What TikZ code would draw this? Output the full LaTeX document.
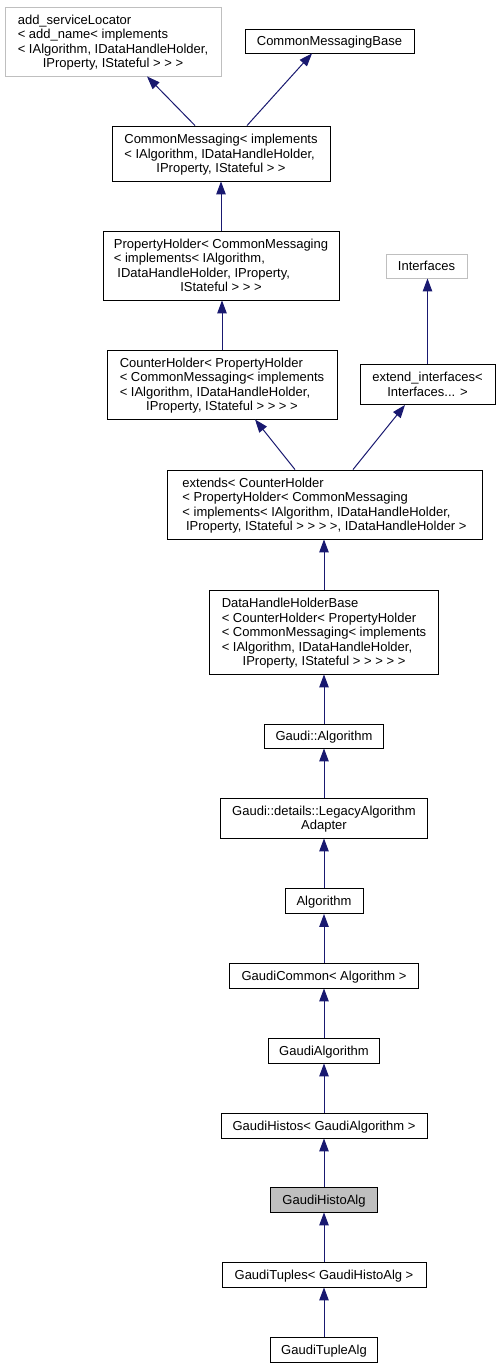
\documentclass[tikz,border=0pt]{standalone}
\usepackage{fontspec}
\setmainfont{Liberation Sans}
\usetikzlibrary{arrows.meta}
\definecolor{edgeblue}{HTML}{191970}
\definecolor{lightborder}{HTML}{BFBFBF}
\definecolor{selfill}{HTML}{BFBFBF}
\newcommand{\lines}[1]{\begin{tabular}{@{}l@{}}\rule{0pt}{13.6pt}#1\end{tabular}}
\newcommand{\clines}[1]{\begin{tabular}{@{}c@{}}\rule{0pt}{13.6pt}#1\end{tabular}}
\newcommand{\cl}[1]{\multicolumn{1}{@{}c@{}}{#1}}
\begin{document}
\begin{tikzpicture}[x=1pt,y=-1pt,
  box/.style={draw=black, line width=0.9pt, fill=white, inner sep=0pt,
    font=\fontsize{13}{14.4}\selectfont, anchor=center},
  one/.style={box, text height=13.6pt, text depth=4.3pt},
  graybox/.style={draw=lightborder},
  selbox/.style={fill=selfill},
  inh/.style={draw=edgeblue, line width=1pt, -{Triangle[length=13pt,width=9.5pt]}}]
\useasboundingbox[fill=white] (0,0) rectangle (499,1368);

\node[box, graybox, minimum width=216pt, minimum height=69pt] (asl) at (113,41.5)
  {\lines{add\_serviceLocator\\ < add\_name< implements\\ < IAlgorithm, IDataHandleHolder,\\ \cl{IProperty, IStateful > > >}}};
\node[one, minimum width=169pt, minimum height=24pt] (cmb) at (329.5,41) {CommonMessagingBase};
\node[box, minimum width=218pt, minimum height=55pt] (cm) at (221,153.5)
  {\lines{CommonMessaging< implements\\ < IAlgorithm, IDataHandleHolder,\\ \cl{IProperty, IStateful > >}}};
\node[box, minimum width=236pt, minimum height=69pt] (ph) at (221,265.5)
  {\lines{PropertyHolder< CommonMessaging\\ < implements< IAlgorithm,\\ \hspace*{3.6pt}IDataHandleHolder, IProperty,\\ \cl{IStateful > > >}}};
\node[one, graybox, minimum width=81pt, minimum height=24pt] (ifc) at (426.5,266) {Interfaces};
\node[box, minimum width=230pt, minimum height=69pt] (ch) at (222,384.5)
  {\lines{CounterHolder< PropertyHolder\\ < CommonMessaging< implements\\ < IAlgorithm, IDataHandleHolder,\\ \cl{IProperty, IStateful > > > >}}};
\node[box, minimum width=135pt, minimum height=40pt] (ei) at (427.5,384.5)
  {\clines{extend\_interfaces<\\ Interfaces... >}};
\node[box, minimum width=315pt, minimum height=69pt] (ext) at (324.5,504.5)
  {\lines{extends< CounterHolder\\ < PropertyHolder< CommonMessaging\\ < implements< IAlgorithm, IDataHandleHolder,\\ \cl{\hspace*{3.6pt}IProperty, IStateful > > > >, IDataHandleHolder >}}};
\node[box, minimum width=229pt, minimum height=84pt] (dhb) at (324,632)
  {\lines{DataHandleHolderBase\\ < CounterHolder< PropertyHolder\\ < CommonMessaging< implements\\ < IAlgorithm, IDataHandleHolder,\\ \cl{IProperty, IStateful > > > > >}}};
\node[one, minimum width=119pt, minimum height=24pt] (ga) at (324,736) {Gaudi::Algorithm};
\node[box, minimum width=207pt, minimum height=40pt] (lga) at (324,818)
  {\clines{Gaudi::details::LegacyAlgorithm\\ Adapter}};
\node[one, minimum width=78pt, minimum height=25pt] (alg) at (324,901) {Algorithm};
\node[one, minimum width=189pt, minimum height=25pt] (gc) at (324,975.5) {GaudiCommon< Algorithm >};
\node[one, minimum width=111pt, minimum height=25pt] (gal) at (324,1050.5) {GaudiAlgorithm};
\node[one, minimum width=206pt, minimum height=25pt] (gh) at (324,1125.5) {GaudiHistos< GaudiAlgorithm >};
\node[one, selbox, minimum width=107pt, minimum height=25pt] (gha) at (324,1199.5) {GaudiHistoAlg};
\node[one, minimum width=204pt, minimum height=25pt] (gt) at (324,1274.5) {GaudiTuples< GaudiHistoAlg >};
\node[one, minimum width=107pt, minimum height=25pt] (gta) at (324,1349.5) {GaudiTupleAlg};

\draw[inh] ([xshift=-26pt]cm.north) -- ([xshift=34pt]asl.south);
\draw[inh] ([xshift=26pt]cm.north) -- ([xshift=-17.5pt]cmb.south);
\draw[inh] (ph.north) -- (cm.south);
\draw[inh] (ch.north) -- (ch.north |- ph.south);
\draw[inh] (ei.north) -- (ei.north |- ifc.south);
\draw[inh] ([xshift=-29.5pt]ext.north) -- ([xshift=33pt]ch.south);
\draw[inh] ([xshift=28.5pt]ext.north) -- ([xshift=-22.5pt]ei.south);
\draw[inh] (dhb.north) -- (dhb.north |- ext.south);
\draw[inh] (ga.north) -- (dhb.south);
\draw[inh] (lga.north) -- (ga.south);
\draw[inh] (alg.north) -- (lga.south);
\draw[inh] (gc.north) -- (alg.south);
\draw[inh] (gal.north) -- (gc.south);
\draw[inh] (gh.north) -- (gal.south);
\draw[inh] (gha.north) -- (gh.south);
\draw[inh] (gt.north) -- (gha.south);
\draw[inh] (gta.north) -- (gt.south);
\end{tikzpicture}
\end{document}
